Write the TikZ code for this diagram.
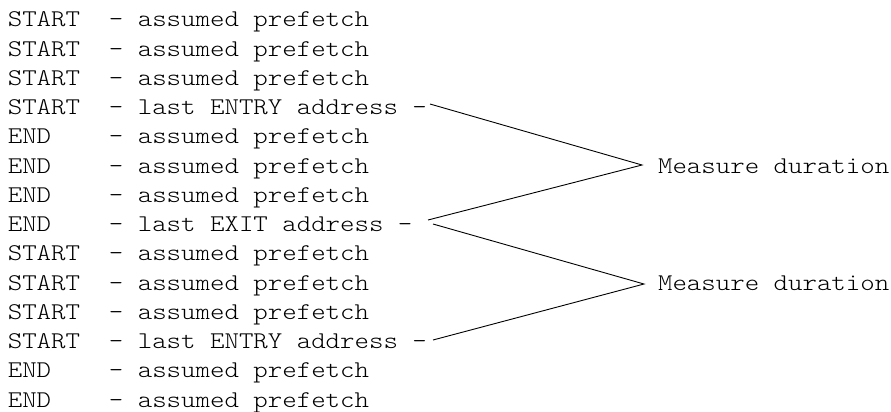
\documentclass[tikz,border=0pt]{standalone}
\usepackage{fontspec}
\newfontfamily\cour[FakeStretch=1.147]{lmmonolt10-regular.otf}
\begin{document}
\begin{tikzpicture}[x=1bp,y=-1bp,
  txt/.style={anchor=base west, inner sep=0pt, font=\cour\fontsize{24bp}{29bp}\selectfont},
  conn/.style={line width=0.9bp, draw=black}]
\useasboundingbox (0,0) rectangle (891,411);
\node[txt] (l1)  at (7.6, 26.8)  {START~~- assumed prefetch};
\node[txt] (l2)  at (7.6, 56.05) {START~~- assumed prefetch};
\node[txt] (l3)  at (7.6, 85.3)  {START~~- assumed prefetch};
\node[txt] (l4)  at (7.6,114.55) {START~~- last ENTRY address -};
\node[txt] (l5)  at (7.6,143.8)  {END~~~~- assumed prefetch};
\node[txt] (l6)  at (7.6,173.05) {END~~~~- assumed prefetch};
\node[txt] (l7)  at (7.6,202.3)  {END~~~~- assumed prefetch};
\node[txt] (l8)  at (7.6,231.55) {END~~~~- last EXIT address -};
\node[txt] (l9)  at (7.6,260.8)  {START~~- assumed prefetch};
\node[txt] (l10) at (7.6,290.05) {START~~- assumed prefetch};
\node[txt] (l11) at (7.6,319.3)  {START~~- assumed prefetch};
\node[txt] (l12) at (7.6,348.55) {START~~- last ENTRY address -};
\node[txt] (l13) at (7.6,377.8)  {END~~~~- assumed prefetch};
\node[txt] (l14) at (7.6,407.05) {END~~~~- assumed prefetch};
\node[txt] (m1) at (657.85,173.05) {Measure duration};
\node[txt] (m2) at (657.85,290.05) {Measure duration};
\coordinate (a1) at (430,104);
\coordinate (v1) at (642,165);
\coordinate (b1) at (428,220);
\coordinate (a2) at (433,224);
\coordinate (v2) at (644,284);
\coordinate (b2) at (433,340);
\draw[conn] (a1) -- (v1) -- (b1);
\draw[conn] (a2) -- (v2) -- (b2);
\end{tikzpicture}
\end{document}
